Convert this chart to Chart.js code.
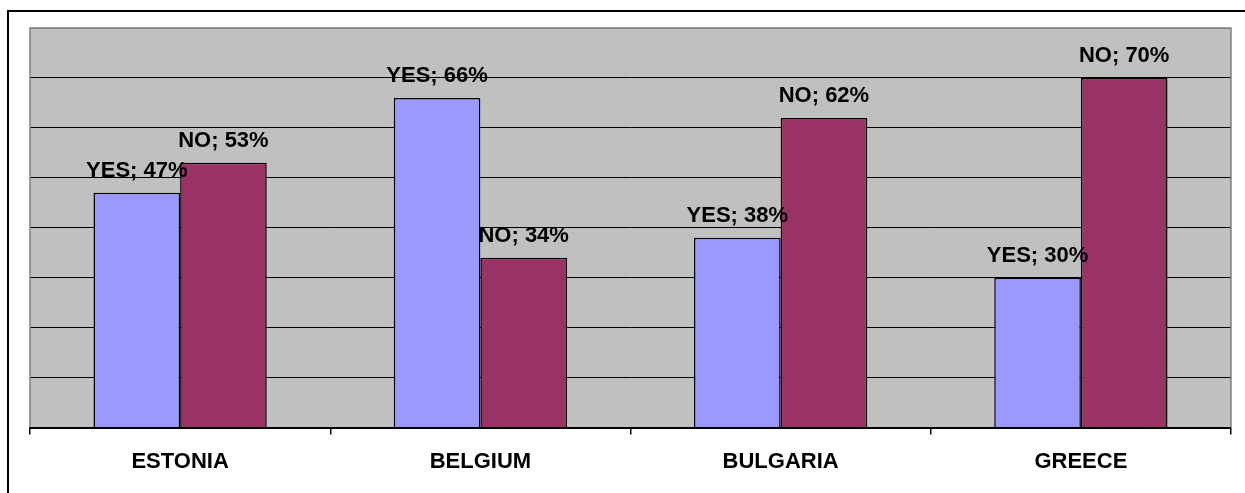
<!DOCTYPE html>
<html>
<head>
<meta charset="utf-8">
<script src="https://cdn.jsdelivr.net/npm/chart.js@4"></script>
<style>
  html, body { margin: 0; padding: 0; background: #ffffff; }
  #wrap { width: 1245px; height: 493px; }
</style>
</head>
<body>
<div id="wrap"><canvas id="c" width="1245" height="493"></canvas></div>
<script>
const categories = ['ESTONIA', 'BELGIUM', 'BULGARIA', 'GREECE'];
const seriesNames = ['YES', 'NO'];
const yesValues = [47, 66, 38, 30];
const noValues = [53, 34, 62, 70];
const yMin = 0, yMax = 80, yStep = 10;

const FONT_FAMILY = '"Liberation Sans", Arial, Helvetica, sans-serif';

const frame = {
  id: 'frame',
  beforeDraw(chart) {
    const { ctx, chartArea: a } = chart;
    ctx.save();
    ctx.fillStyle = '#ffffff';
    ctx.fillRect(0, 0, chart.width, chart.height);
    // outer border
    ctx.strokeStyle = '#000000';
    ctx.lineWidth = 2;
    ctx.strokeRect(8, 11, chart.width + 20, chart.height + 20);
    // plot background
    ctx.fillStyle = '#C0C0C0';
    ctx.fillRect(a.left, a.top, a.right - a.left, a.bottom - a.top);
    ctx.restore();
  },
  beforeDatasetsDraw(chart) {
    const { ctx, chartArea: a } = chart;
    ctx.save();
    ctx.strokeStyle = '#808080';
    ctx.lineWidth = 1.5;
    ctx.beginPath();
    ctx.moveTo(a.left, a.bottom);
    ctx.lineTo(a.left, a.top);
    ctx.lineTo(a.right, a.top);
    ctx.lineTo(a.right, a.bottom);
    ctx.stroke();
    ctx.restore();
  }
};

const valueLabels = {
  id: 'valueLabels',
  afterDatasetsDraw(chart) {
    const { ctx } = chart;
    ctx.save();
    ctx.font = 'bold 22px ' + FONT_FAMILY;
    ctx.fillStyle = '#000000';
    ctx.textAlign = 'center';
    ctx.textBaseline = 'alphabetic';
    chart.data.datasets.forEach((ds, di) => {
      const meta = chart.getDatasetMeta(di);
      meta.data.forEach((bar, i) => {
        ctx.fillText(ds.label + '; ' + ds.data[i] + '%', bar.x, bar.y - 16);
      });
    });
    ctx.restore();
  }
};

new Chart(document.getElementById('c'), {
  type: 'bar',
  data: {
    labels: categories,
    datasets: [
      { label: seriesNames[0], data: yesValues, backgroundColor: '#9999FF', borderColor: '#000000', borderWidth: 1.5 },
      { label: seriesNames[1], data: noValues, backgroundColor: '#993366', borderColor: '#000000', borderWidth: 1.5 }
    ]
  },
  options: {
    responsive: false,
    animation: false,
    devicePixelRatio: 1,
    categoryPercentage: 0.577,
    barPercentage: 1,
    layout: { padding: { left: 30, top: 28, right: 14, bottom: 4 } },
    plugins: { legend: { display: false }, tooltip: { enabled: false } },
    scales: {
      x: {
        grid: { offset: true, drawOnChartArea: false, drawTicks: true, tickLength: 7, color: '#000000', lineWidth: 1.5 },
        border: { display: true, color: '#000000', width: 2 },
        ticks: { color: '#000000', padding: 14, font: { family: FONT_FAMILY, size: 22, weight: 'bold' } }
      },
      y: {
        min: yMin, max: yMax,
        ticks: { display: false, stepSize: yStep },
        grid: { drawTicks: false, tickLength: 0, lineWidth: 1,
                color: (c) => (c.tick && c.tick.value === yMax) ? '#808080' : '#000000' },
        border: { display: false }
      }
    }
  },
  plugins: [frame, valueLabels]
});
</script>
</body>
</html>
